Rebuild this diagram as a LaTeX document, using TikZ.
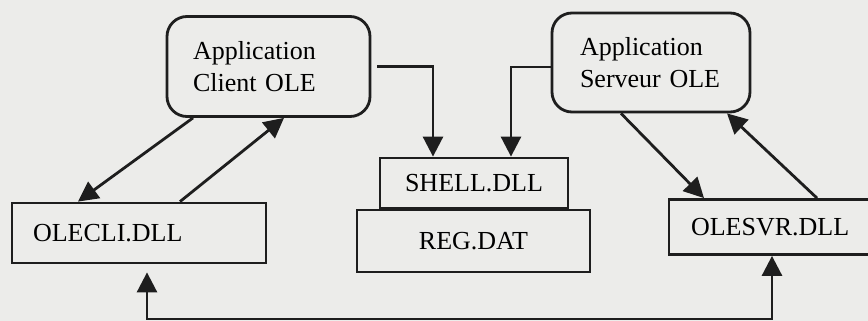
\documentclass[tikz,border=0pt]{standalone}
\usepackage{fontspec}
\setmainfont{Liberation Serif}
\usepackage{tikz}
\usetikzlibrary{arrows.meta, positioning, calc}

\definecolor{papier}{RGB}{236,236,234}
\definecolor{encre}{RGB}{30,30,30}

\begin{document}
\begin{tikzpicture}[
    x=0.5pt, y=-0.5pt,
    appli/.style={draw=encre, rounded corners=10pt, align=left, minimum height=50pt, font=\fontsize{13pt}{16pt}\selectfont},
    dll/.style={draw=encre, rectangle, align=left, font=\fontsize{13pt}{16pt}\selectfont},
    fleche/.style={draw=encre, line width=1.4pt},
    line width=1.4pt,
    >={Triangle[length=10pt, width=10pt]}
]

% Fond de page
\useasboundingbox (0,0) rectangle (868,321);
\fill[papier] (0,0) rectangle (868,321);
\clip (0,0) rectangle (868,321);

% Applications OLE
\node[appli, text width=75.5pt, inner xsep=13pt] (cliapp) at (268.5, 66.5) {Application\\Client OLE};
\node[appli, text width=71pt, inner xsep=14pt, minimum height=49.5pt] (srvapp) at (651, 62.5) {Application\\Serveur OLE};

% Bibliotheques
\node[dll, text width=106pt, inner xsep=10.5pt, minimum height=30pt] (olecli) at (139, 233) {OLECLI.DLL};
\node[dll, align=center, minimum width=94pt, minimum height=25pt] (shell) at (474, 183) {SHELL.DLL};
\node[dll, align=center, minimum width=116.5pt, minimum height=31pt] (reg) at (473.5, 241) {REG.DAT};
\node[dll, text width=83.5pt, inner xsep=11pt, minimum height=27.5pt] (olesvr) at (774.5, 227) {OLESVR.DLL};

\coordinate (bas) at (460, 319);

% Liaisons client
\draw[fleche, ->] ([xshift=-37.75pt]cliapp.south) -- ([xshift=-30.5pt]olecli.north);
\draw[fleche, ->] ([xshift=20.5pt]olecli.north) -- ([xshift=7.75pt]cliapp.south);
\draw[fleche, ->, shorten <=3pt] (cliapp.east) -| ([xshift=-20.5pt]shell.north);

% Liaisons serveur
\draw[fleche, ->] ([yshift=-2.25pt]srvapp.west) -| ([xshift=18.5pt]shell.north);
\draw[fleche, ->] ([xshift=-15pt]srvapp.south) -- ([xshift=-35.25pt]olesvr.north);
\draw[fleche, ->] ([xshift=21.25pt]olesvr.north) -- ([xshift=38pt]srvapp.south);

% Liaison OLECLI <-> OLESVR
\draw[fleche, <->, shorten <=4pt] ([xshift=4pt]olecli.south) |- (bas) -| ([xshift=-1.25pt]olesvr.south);

\end{tikzpicture}
\end{document}
